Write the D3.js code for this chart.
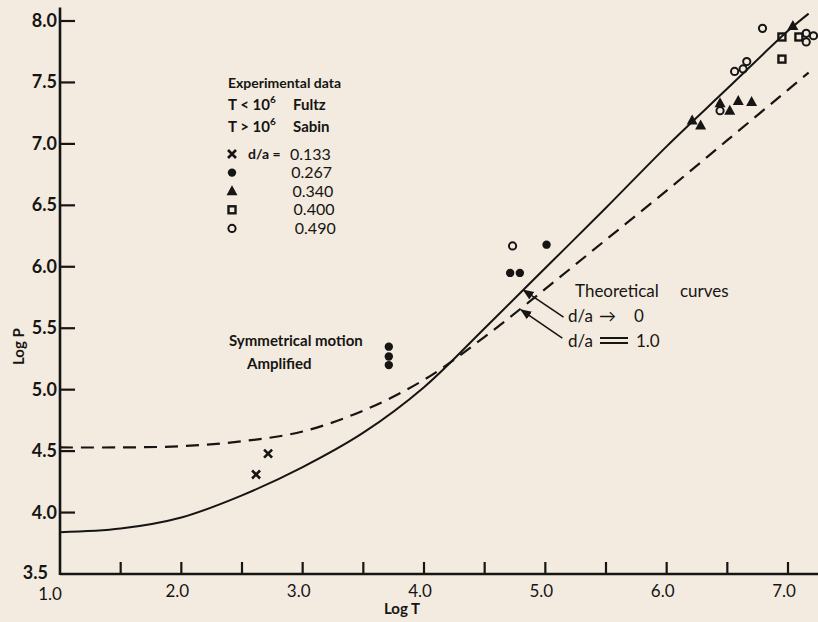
<!DOCTYPE html>
<html><head><meta charset="utf-8">
<script src="https://cdn.jsdelivr.net/npm/d3@7"></script>
<style>body{margin:0;background:#f3ebdf;} svg{display:block}</style>
</head><body>
<svg id="c" width="818" height="622"></svg>
<script>
// ---- data ----
const xTickValues = [1.5,2.0,2.5,3.0,3.5,4.0,4.5,5.0,5.5,6.0,6.5,7.0];
const xTickLabels = [[1.0,"1.0"],[2.0,"2.0"],[3.0,"3.0"],[4.0,"4.0"],[5.0,"5.0"],[6.0,"6.0"],[7.0,"7.0"]];
const yTickValues = [8.0,7.5,7.0,6.5,6.0,5.5,5.0,4.5,4.0];
const yTickLabels = ["8.0","7.5","7.0","6.5","6.0","5.5","5.0","4.5","4.0","3.5"];

// theoretical curves
const curveT      = [1.0, 1.5, 2.0, 2.5, 3.0, 3.5, 4.0, 4.5, 5.0, 5.5, 6.0, 6.5, 7.0, 7.17];
const solidP      = [3.84,3.87,3.96,4.14,4.37,4.65,5.02,5.50,5.99,6.48,6.98,7.45,7.92,8.06];
const dashedP     = [4.53,4.53,4.54,4.58,4.66,4.83,5.08,5.43,5.82,6.22,6.62,7.03,7.44,7.58];

// experimental data [logT, logP]
const da133 = [[2.715,4.48],[2.616,4.31]];
const da267 = [[3.71,5.35],[3.71,5.27],[3.71,5.20],[4.71,5.95],[4.79,5.95],[5.01,6.18]];
const da340 = [[6.21,7.19],[6.28,7.15],[6.44,7.33],[6.52,7.27],[6.59,7.35],[6.70,7.34],[7.04,7.96]];
const da400 = [[6.95,7.87],[6.95,7.69],[7.09,7.87]];
const da490 = [[4.73,6.17],[6.44,7.27],[6.56,7.59],[6.63,7.61],[6.66,7.67],[6.79,7.94],[7.15,7.90],[7.15,7.83],[7.21,7.88]];

const legendRows = [["x","0.133"],["dot","0.267"],["tri","0.340"],["sq","0.400"],["circ","0.490"]];

// ---- drawing ----
const ink = "#161514";
const svg = d3.select("#c");
svg.append("rect").attr("width",818).attr("height",622).attr("fill","#f3ebdf");

const x = d3.scaleLinear().domain([1,7]).range([60,788]);
const y = d3.scaleLinear().domain([3.5,8]).range([574,21]);
const font = "Lato, 'DejaVu Sans', sans-serif";

// axes
svg.append("line").attr("x1",x(1)).attr("x2",818).attr("y1",y(3.5)).attr("y2",y(3.5))
  .attr("stroke",ink).attr("stroke-width",2.6);
svg.append("line").attr("x1",x(1)).attr("x2",x(1)).attr("y1",y(3.5)+1).attr("y2",y(8.11))
  .attr("stroke",ink).attr("stroke-width",2.6);

svg.selectAll(".xt").data(xTickValues).enter().append("line")
  .attr("x1",d=>x(d)).attr("x2",d=>x(d)).attr("y1",y(3.5)).attr("y2",y(3.5)-12)
  .attr("stroke",ink).attr("stroke-width",2.2);
svg.selectAll(".yt").data(yTickValues).enter().append("line")
  .attr("x1",x(1)).attr("x2",x(1)+15).attr("y1",d=>y(d)).attr("y2",d=>y(d))
  .attr("stroke",ink).attr("stroke-width",2.2);

svg.selectAll(".xl").data(xTickLabels).enter().append("text")
  .attr("x",d=>x(d[0])-(d[0]===1?10:4)).attr("y",d=>y(3.5)+(d[0]===1?26:23))
  .attr("text-anchor","middle").attr("font-family",font).attr("font-size",17)
  .attr("fill",ink).text(d=>d[1]);
svg.selectAll(".yl").data(yTickLabels).enter().append("text")
  .attr("x",d=>x(1)-(d==="3.5"?12:3)).attr("y",d=>y(+d)+(d==="3.5"?5:6))
  .attr("text-anchor","end").attr("font-family",font).attr("font-size",18).attr("font-weight",700)
  .attr("fill",ink).text(d=>d);

svg.append("text").attr("x",402).attr("y",614).attr("text-anchor","middle")
  .attr("font-family",font).attr("font-size",15).attr("font-weight",700).attr("fill",ink).text("Log T");
svg.append("text").attr("transform","translate(24,"+y(5.35)+") rotate(-90)").attr("text-anchor","middle")
  .attr("font-family",font).attr("font-size",15).attr("font-weight",700).attr("fill",ink).text("Log P");

// curves
const line = d3.line().x(d=>x(d[0])).y(d=>y(d[1])).curve(d3.curveCatmullRom.alpha(0.5));
svg.append("path").attr("d",line(curveT.map((t,i)=>[t,solidP[i]])))
  .attr("fill","none").attr("stroke",ink).attr("stroke-width",2);
svg.append("path").attr("d",line(curveT.map((t,i)=>[t,dashedP[i]])))
  .attr("fill","none").attr("stroke",ink).attr("stroke-width",2.2).attr("stroke-dasharray","13,8");

// symbols
function drawSym(g, type, cx, cy) {
  if (type==="x") {
    g.append("path").attr("d",`M${cx-4},${cy-4}L${cx+4},${cy+4}M${cx+4},${cy-4}L${cx-4},${cy+4}`)
      .attr("stroke",ink).attr("stroke-width",2.6).attr("fill","none");
  } else if (type==="dot") {
    g.append("circle").attr("cx",cx).attr("cy",cy).attr("r",4.2).attr("fill",ink);
  } else if (type==="tri") {
    g.append("path").attr("d",`M${cx},${cy-6}L${cx+5.5},${cy+4}L${cx-5.5},${cy+4}Z`).attr("fill",ink);
  } else if (type==="sq") {
    g.append("rect").attr("x",cx-3.5).attr("y",cy-3.5).attr("width",7).attr("height",7)
      .attr("fill","none").attr("stroke",ink).attr("stroke-width",2.4);
  } else if (type==="circ") {
    g.append("circle").attr("cx",cx).attr("cy",cy).attr("r",3.6).attr("fill","none")
      .attr("stroke",ink).attr("stroke-width",2);
  }
}
const gp = svg.append("g");
[[da133,"x"],[da267,"dot"],[da340,"tri"],[da400,"sq"],[da490,"circ"]].forEach(([arr,t])=>{
  arr.forEach(d=>drawSym(gp,t,x(d[0]),y(d[1])));
});

// legend
function txt(tx,ty,s,size,weight){
  return svg.append("text").attr("x",tx).attr("y",ty).attr("font-family",font)
    .attr("font-size",size||15).attr("font-weight",weight||700).attr("fill",ink).text(s);
}
txt(228,88,"Experimental data",14);
const t1 = txt(228,110,"T < 10"); t1.append("tspan").attr("font-size",10).attr("dy",-7).text("6");
txt(293,110,"Fultz");
const t2 = txt(228,132,"T > 10"); t2.append("tspan").attr("font-size",10).attr("dy",-7).text("6");
txt(293,132,"Sabin");
legendRows.forEach((r,i)=>{
  const ly = 154 + i*18.6;
  drawSym(svg, r[0], 232, ly);
  txt(290 + i*1.2, ly+5.5, r[1], 16, 400);
});
txt(248,159,"d/a =",14,700);

txt(229,346,"Symmetrical  motion");
txt(247,369,"Amplified");

// theoretical annotations
txt(575,297,"Theoretical",17,400);
txt(680,297,"curves",17,400);
txt(568,322,"d/a",17,400);
txt(599,322,"\u2192",17,400);
txt(634,322,"0",17,400);
txt(568,347,"d/a",17,400);
svg.append("line").attr("x1",600).attr("x2",628).attr("y1",338).attr("y2",338).attr("stroke",ink).attr("stroke-width",2);
svg.append("line").attr("x1",600).attr("x2",628).attr("y1",343).attr("y2",343).attr("stroke",ink).attr("stroke-width",2);
txt(636,347,"1.0",17,400);

const defs = svg.append("defs");
defs.append("marker").attr("id","ah").attr("viewBox","0 0 10 10").attr("refX",9).attr("refY",5)
  .attr("markerWidth",7).attr("markerHeight",7).attr("orient","auto")
  .append("path").attr("d","M0,1L10,5L0,9Z").attr("fill",ink);
const arrows = [[[5.15,5.59],[4.82,5.81]],[[5.14,5.42],[4.80,5.65]]];
arrows.forEach(a=>{
  svg.append("line").attr("x1",x(a[0][0])).attr("y1",y(a[0][1])).attr("x2",x(a[1][0])).attr("y2",y(a[1][1]))
    .attr("stroke",ink).attr("stroke-width",1.6).attr("marker-end","url(#ah)");
});
</script>
</body></html>
